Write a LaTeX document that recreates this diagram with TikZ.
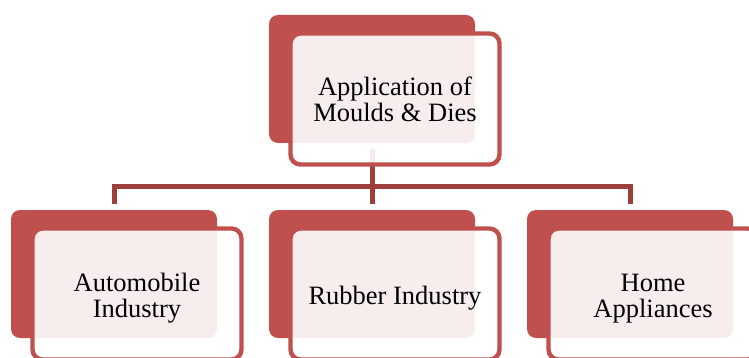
\documentclass[tikz,border=0pt]{standalone}
\usepackage{fontspec}
\setmainfont{Liberation Serif}
\usetikzlibrary{positioning}
\definecolor{boxred}{HTML}{C0504D}
\definecolor{linkred}{HTML}{9E3F3C}
\tikzset{
  backbox/.style={rectangle, rounded corners=9pt, fill=boxred,
    minimum width=206pt, minimum height=128pt, inner sep=0pt, outer sep=0pt},
  frontbox/.style={rectangle, rounded corners=10pt, draw=boxred, line width=4.4pt,
    fill=white, fill opacity=0.9, text opacity=1,
    minimum width=209pt, minimum height=131pt, inner sep=0pt, outer sep=0pt,
    align=center, font=\fontsize{26.5}{26}\selectfont,
    xshift=23pt, yshift=-20pt},
  childbox/.style={frontbox, text height=#1},
  link/.style={draw=linkred, line width=5pt}
}

\begin{document}
\begin{tikzpicture}[x=1pt, y=-1pt]
  \useasboundingbox (0,0) rectangle (749,358);
  \clip (0,0) rectangle (749,358);
  % back plates
  \node[backbox] (topback) at (372,79) {};
  \node[backbox, below=67pt of topback] (rubberback) {};
  \node[backbox, left=52pt of rubberback] (autoback) {};
  \node[backbox, right=52pt of rubberback] (homeback) {};
  % connectors
  \draw[link] ([yshift=-6pt]topback.south) -- ([yshift=6pt]rubberback.north);
  \draw[link] ([yshift=6pt]autoback.north) |- ([yshift=-44pt]topback.south)
              -| ([yshift=6pt]homeback.north);
  % front boxes
  \node[frontbox] (topfront) at (topback) {Application of\\Moulds \& Dies};
  \node[childbox=53pt] (autofront) at (autoback) {Automobile\\Industry};
  \node[childbox=27pt] (rubberfront) at (rubberback) {Rubber Industry};
  \node[childbox=53pt] (homefront) at (homeback) {Home\\Appliances};
\end{tikzpicture}
\end{document}
